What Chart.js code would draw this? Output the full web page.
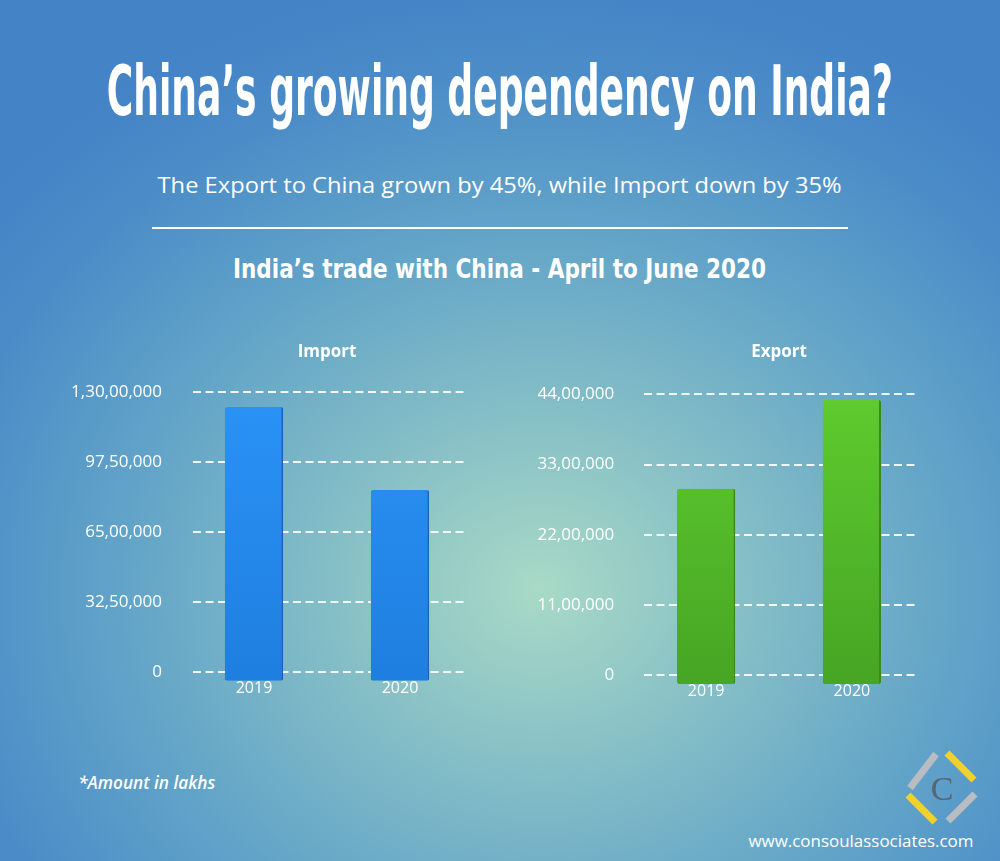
<!DOCTYPE html>
<html>
<head>
<meta charset="utf-8">
<script src="https://cdn.jsdelivr.net/npm/chart.js@4.4.1/dist/chart.umd.min.js"></script>
<style>
  html, body { margin:0; padding:0; }
  body {
    width:1000px; height:861px; overflow:hidden; position:relative;
    background: radial-gradient(ellipse 720px 620px at 540px 590px, #a9dac6 0%, #86bfc6 28%, #62a4c8 58%, #4a8bc8 85%, #4383c6 100%);
    font-family: "Open Sans", "Noto Sans", sans-serif; color:#fff;
  }
  .t { position:absolute; white-space:nowrap; line-height:1; transform-origin:center center; }
  #title { font-family:"Liberation Sans Narrow","DejaVu Sans Condensed",Roboto,"Liberation Sans",sans-serif; font-weight:700; font-size:70px; top:56px; }
  #sub { font-size:22px; font-weight:500; top:173px; }
  #heading { font-family:"Liberation Sans Narrow","DejaVu Sans Condensed",Roboto,"Liberation Sans",sans-serif; font-weight:700; font-size:26px; top:256px; }
  #rule { position:absolute; left:152px; top:227px; width:696px; height:2px; background:#fff; }
  #note { font-size:18px; font-style:italic; font-weight:600; top:773px; }
  #web { font-size:17px; font-weight:500; top:832px; }
  canvas { position:absolute; top:330px; }
  #cImport { left:0; }
  #cExport { left:500px; }
  #logo { position:absolute; left:0; top:0; }
</style>
</head>
<body>
<div id="title" class="t">China’s growing dependency on India?</div>
<div id="sub" class="t">The Export to China grown by 45%, while Import down by 35%</div>
<div id="rule"></div>
<div id="heading" class="t">India’s trade with China - April to June 2020</div>
<canvas id="cImport" width="500" height="380"></canvas>
<canvas id="cExport" width="500" height="380"></canvas>
<div id="note" class="t">*Amount in lakhs</div>
<div id="web" class="t">www.consoulassociates.com</div>
<svg id="logo" width="1000" height="861">
  <line x1="910" y1="788" x2="936" y2="754" stroke="#b9bdc2" stroke-width="7"/>
  <line x1="947" y1="753" x2="974" y2="780" stroke="#f2d12c" stroke-width="7"/>
  <line x1="908" y1="795" x2="935" y2="822" stroke="#f2d12c" stroke-width="7"/>
  <line x1="948" y1="821" x2="975" y2="794" stroke="#b9bdc2" stroke-width="7"/>
  <text x="942" y="800" text-anchor="middle" font-family="Liberation Serif, DejaVu Serif, serif" font-size="34" fill="#5a6472">C</text>
</svg>
<script>
// ---- data ----
const categories = ['2019', '2020'];
const importValues = [12300000, 8450000];
const exportValues = [2920000, 4310000];
const importTicks = [0, 3250000, 6500000, 9750000, 13000000];
const exportTicks = [0, 1100000, 2200000, 3300000, 4400000];

function inr(n) {
  const s = String(Math.round(n));
  if (s.length <= 3) return s;
  const last3 = s.slice(-3);
  const rest = s.slice(0, -3).replace(/\B(?=(\d{2})+(?!\d))/g, ',');
  return rest + ',' + last3;
}

// text fitting
function fit(id, cx, w) {
  const el = document.getElementById(id);
  const nat = el.getBoundingClientRect().width;
  el.style.left = (cx - nat / 2) + 'px';
  el.style.transform = 'scaleX(' + (w / nat) + ')';
}
fit('title', 500, 786);
fit('sub', 500, 684);
fit('heading', 500, 533);
fit('note', 146.5, 137);
fit('web', 860.5, 225);

const dashedGrid = {
  id: 'dashedGrid',
  beforeDatasetsDraw(chart, args, opts) {
    const { ctx, chartArea, scales } = chart;
    ctx.save();
    ctx.strokeStyle = 'rgba(255,255,255,0.9)';
    ctx.lineWidth = 2;
    ctx.setLineDash([8, 4.5]);
    scales.y.ticks.forEach(t => {
      const y = Math.round(scales.y.getPixelForValue(t.value));
      ctx.beginPath();
      ctx.moveTo(chartArea.left + opts.insetL, y);
      ctx.lineTo(chartArea.right - opts.insetR, y);
      ctx.stroke();
    });
    ctx.restore();
  }
};

function makeChart(id, title, values, ticks, colors, geom) {
  const yMax = ticks[ticks.length - 1];
  return new Chart(document.getElementById(id), {
    type: 'bar',
    data: {
      labels: categories,
      datasets: [{
        data: values,
        base: -yMax * 0.031,
        clip: false,
        backgroundColor: (c) => {
          const ca = c.chart.chartArea;
          if (!ca) return colors[0];
          const g = c.chart.ctx.createLinearGradient(0, ca.top, 0, ca.bottom);
          g.addColorStop(0, colors[0]);
          g.addColorStop(1, colors[1]);
          return g;
        },
        borderColor: colors[2],
        borderWidth: { left: 0, top: 0, bottom: 0, right: 2 },
        borderRadius: 2,
        borderSkipped: false,
        barPercentage: 0.4,
        categoryPercentage: 1
      }]
    },
    options: {
      responsive: false,
      animation: false,
      layout: { padding: { top: 12, right: geom.padR, bottom: geom.padB, left: 0 } },
      plugins: {
        legend: { display: false },
        tooltip: { enabled: false },
        title: {
          display: true, text: title, color: '#fff', fullSize: false,
          font: { family: '"Open Sans", sans-serif', size: 17, weight: '700', lineHeight: 1.2 },
          padding: { top: 0, bottom: geom.titleB }
        },
        dashedGrid: { insetL: geom.insetL, insetR: geom.insetR }
      },
      scales: {
        x: {
          grid: { display: false, drawTicks: false },
          border: { display: false },
          ticks: { color: '#fff', padding: 6.4, font: { family: '"Open Sans", sans-serif', size: 16, weight: '500' } },
          afterFit: (s) => { s.height = 30; }
        },
        y: {
          min: 0, max: yMax,
          grid: { display: false, drawTicks: false },
          border: { display: false },
          afterBuildTicks: (s) => { s.ticks = ticks.map(v => ({ value: v })); },
          ticks: { color: '#fff', padding: 19, font: { family: '"Open Sans", sans-serif', size: 17, weight: '500' }, callback: (v) => inr(v) },
          afterFit: (s) => { s.width = geom.yW; }
        }
      }
    },
    plugins: [dashedGrid]
  });
}

makeChart('cImport', 'Import', importValues, importTicks,
  ['#2a93f6', '#1f7fe0', '#1a64b4'],
  { padR: 27, padB: 8, titleB: 29.6, yW: 181, insetL: 12, insetR: 7 });
makeChart('cExport', 'Export', exportValues, exportTicks,
  ['#5ecb2e', '#47a624', '#3a8a1c'],
  { padR: 75.25, padB: 4.7, titleB: 31.9, yW: 133.25, insetL: 10.75, insetR: 7.75 });
</script>
</body>
</html>
